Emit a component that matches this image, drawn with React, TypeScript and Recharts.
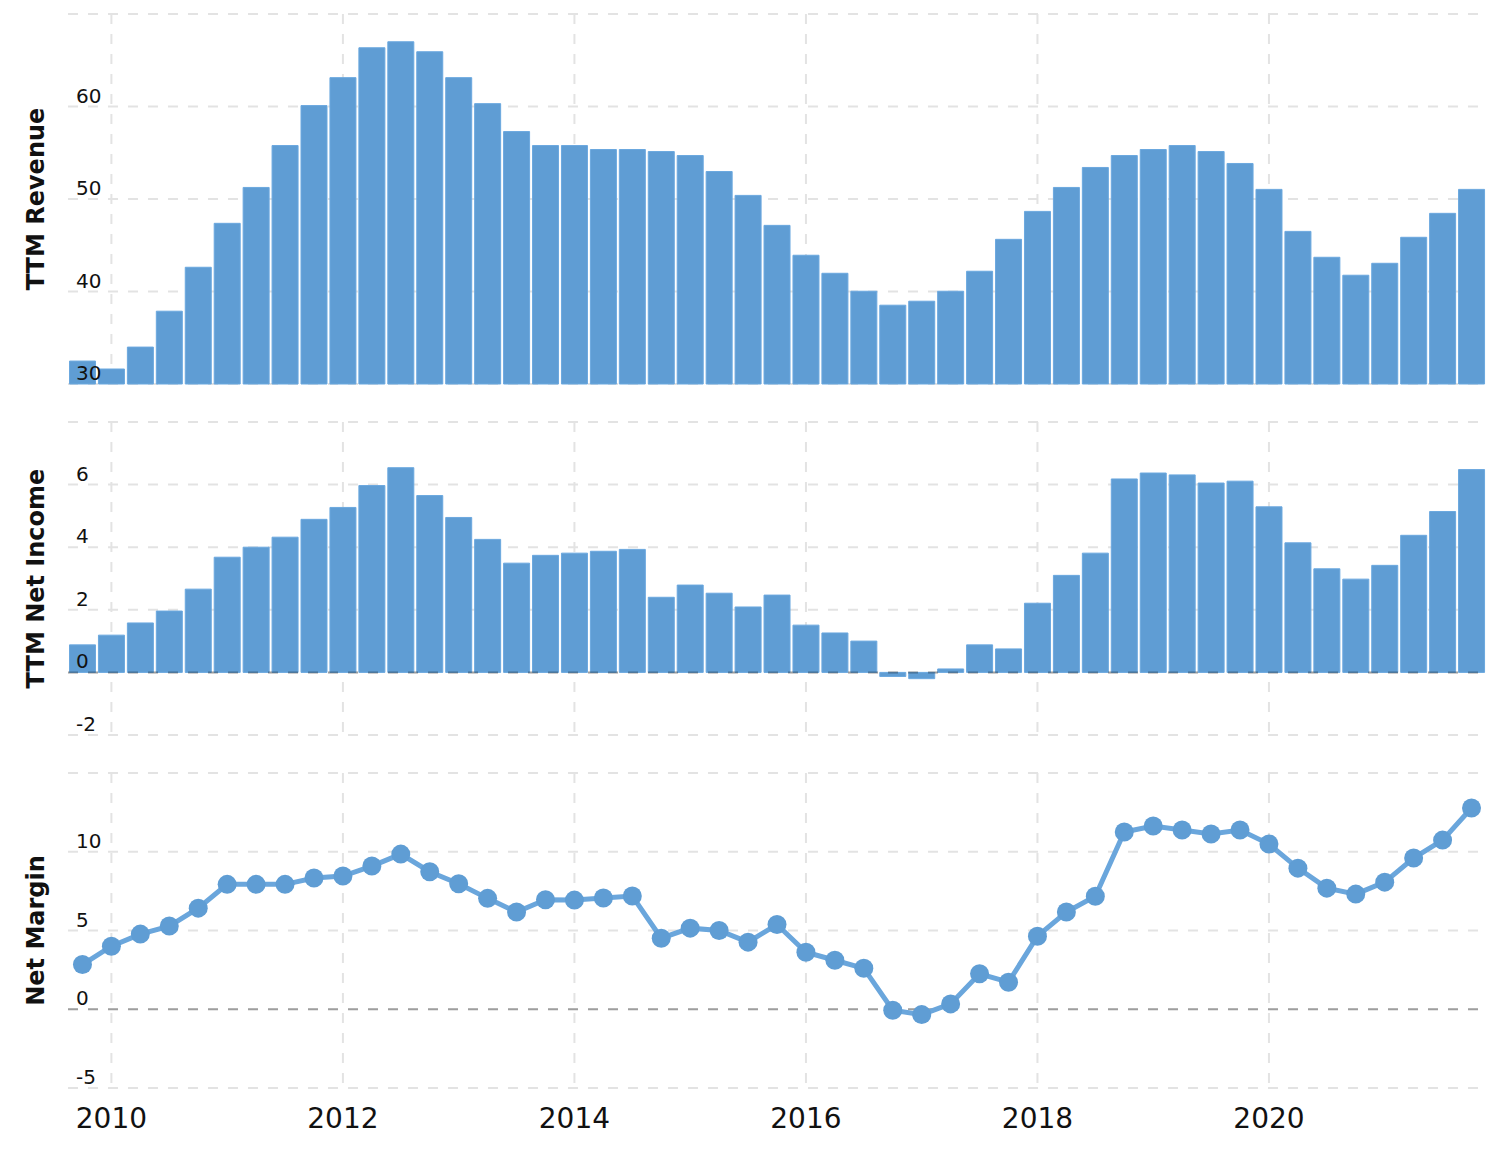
import {
  Bar,
  BarChart,
  CartesianGrid,
  Line,
  LineChart,
  ReferenceLine,
  XAxis,
  YAxis
} from "recharts";

const quarters = [
  "2009-09-30", "2009-12-31", "2010-03-31", "2010-06-30", "2010-09-30", "2010-12-31",
  "2011-03-31", "2011-06-30", "2011-09-30", "2011-12-31", "2012-03-31", "2012-06-30",
  "2012-09-30", "2012-12-31", "2013-03-31", "2013-06-30", "2013-09-30", "2013-12-31",
  "2014-03-31", "2014-06-30", "2014-09-30", "2014-12-31", "2015-03-31", "2015-06-30",
  "2015-09-30", "2015-12-31", "2016-03-31", "2016-06-30", "2016-09-30", "2016-12-31",
  "2017-03-31", "2017-06-30", "2017-09-30", "2017-12-31", "2018-03-31", "2018-06-30",
  "2018-09-30", "2018-12-31", "2019-03-31", "2019-06-30", "2019-09-30", "2019-12-31",
  "2020-03-31", "2020-06-30", "2020-09-30", "2020-12-31", "2021-03-31", "2021-06-30",
  "2021-09-30"
];

const ttmRevenue = [
  32.48, 31.62, 33.99, 37.87, 42.62, 47.37, 51.25, 55.78, 60.1, 63.12, 66.35, 67.0,
  65.92, 63.12, 60.31, 57.29, 55.78, 55.78, 55.35, 55.35, 55.13, 54.7, 52.97, 50.39,
  47.15, 43.92, 41.97, 40.03, 38.52, 38.95, 40.03, 42.19, 45.64, 48.66, 51.25, 53.41,
  54.7, 55.35, 55.78, 55.13, 53.84, 51.04, 46.5, 43.7, 41.76, 43.05, 45.86, 48.45,
  51.04
];

const ttmNetIncome = [
  0.88, 1.19, 1.58, 1.96, 2.66, 3.68, 4.0, 4.32, 4.89, 5.27, 5.97, 6.54,
  5.65, 4.95, 4.25, 3.49, 3.74, 3.81, 3.87, 3.93, 2.4, 2.79, 2.53, 2.09,
  2.47, 1.51, 1.26, 1.0, -0.13, -0.2, 0.11, 0.88, 0.75, 2.21, 3.1, 3.81,
  6.18, 6.37, 6.31, 6.05, 6.11, 5.29, 4.14, 3.31, 2.98, 3.42, 4.38, 5.14,
  6.48
];

const netMargin = [
  2.84, 4.0, 4.77, 5.28, 6.42, 7.93, 7.93, 7.93, 8.33, 8.46, 9.09, 9.85,
  8.73, 7.97, 7.04, 6.17, 6.95, 6.93, 7.06, 7.19, 4.51, 5.15, 5.0, 4.26,
  5.38, 3.62, 3.11, 2.6, -0.06, -0.34, 0.34, 2.25, 1.72, 4.64, 6.17, 7.18,
  11.25, 11.63, 11.38, 11.13, 11.38, 10.49, 8.96, 7.69, 7.31, 8.07, 9.6, 10.74,
  12.78
];

// year gridlines sit on the quarter ending just before each labelled year
const yearTicks = ["2009-12-31", "2011-12-31", "2013-12-31", "2015-12-31", "2017-12-31", "2019-12-31"];

const revenueTicks = [30, 40, 50, 60, 70];
const incomeTicks = [-2, 0, 2, 4, 6, 8];
const marginTicks = [-5, 0, 5, 10, 15];

const data = quarters.map((date, i) => ({
  date,
  revenue: ttmRevenue[i],
  income: ttmNetIncome[i],
  margin: netMargin[i]
}));

const BLUE = "#5f9dd4";
const FONT = "Verdana, 'DejaVu Sans', sans-serif";
const WIDTH = 1510;
const MARGIN_RIGHT = 24;
const AXIS_W = 68;
// half a bar slot, so the line's points line up with the bar centres above
const HALF_SLOT = (WIDTH - MARGIN_RIGHT - AXIS_W) / quarters.length / 2;

function yearLabel(date: string) {
  return String(Number(date.slice(0, 4)) + 1);
}

function makeYTick(topValue: number) {
  return (props: any) => {
    const { y, payload } = props;
    if (payload.value === topValue) return <g />;
    return (
      <text x={76} y={y - 4} fontSize={20} fontFamily={FONT} fill="#111" textAnchor="start">
        {payload.value}
      </text>
    );
  };
}

function XTick(props: any) {
  const { x, payload } = props;
  return (
    <text x={x} y={368} fontSize={28} fontFamily={FONT} fill="#111" textAnchor="middle">
      {yearLabel(payload.value)}
    </text>
  );
}

function AxisTitle(props: any) {
  const { viewBox, text } = props;
  const cy = viewBox.y + viewBox.height / 2;
  return (
    <text
      x={44}
      y={cy}
      transform={`rotate(-90 44 ${cy})`}
      textAnchor="middle"
      fontSize={24}
      fontWeight="bold"
      fontFamily={FONT}
      fill="#111"
    >
      {text}
    </text>
  );
}

const gridProps = {
  strokeDasharray: "10 10",
  stroke: "#e3e3e3",
  strokeWidth: 2,
  syncWithTicks: true
};

export default function App() {
  return (
    <div style={{ position: "absolute", left: 0, top: 0, width: WIDTH, height: 1159, background: "#fff" }}>
      <BarChart
        width={WIDTH}
        height={400}
        data={data}
        margin={{ top: 14, right: MARGIN_RIGHT, bottom: 16, left: 0 }}
        barCategoryGap={1.5}
      >
        <CartesianGrid {...gridProps} />
        <XAxis dataKey="date" ticks={yearTicks} interval={0} hide />
        <YAxis
          width={AXIS_W}
          domain={[30, 70]}
          ticks={revenueTicks}
          axisLine={false}
          tickLine={false}
          tick={makeYTick(70)}
          label={<AxisTitle text="TTM Revenue" />}
        />
        <Bar dataKey="revenue" fill={BLUE} stroke="#6ba8df" strokeWidth={1} isAnimationActive={false} />
      </BarChart>

      <BarChart
        width={WIDTH}
        height={360}
        data={data}
        margin={{ top: 22, right: MARGIN_RIGHT, bottom: 25, left: 0 }}
        barCategoryGap={1.5}
      >
        <CartesianGrid {...gridProps} />
        <XAxis dataKey="date" ticks={yearTicks} interval={0} hide />
        <YAxis
          width={AXIS_W}
          domain={[-2, 8]}
          ticks={incomeTicks}
          axisLine={false}
          tickLine={false}
          tick={makeYTick(8)}
          label={<AxisTitle text="TTM Net Income" />}
        />
        <Bar dataKey="income" fill={BLUE} stroke="#6ba8df" strokeWidth={1} isAnimationActive={false} />
        <ReferenceLine y={0} stroke="rgba(0,0,0,0.3)" strokeWidth={2} strokeDasharray="10 10" />
      </BarChart>

      <LineChart
        width={WIDTH}
        height={399}
        data={data}
        margin={{ top: 13, right: MARGIN_RIGHT, bottom: 0, left: 0 }}
      >
        <CartesianGrid {...gridProps} />
        <XAxis
          dataKey="date"
          ticks={yearTicks}
          interval={0}
          height={71}
          padding={{ left: HALF_SLOT, right: HALF_SLOT }}
          axisLine={false}
          tickLine={false}
          tick={<XTick />}
        />
        <YAxis
          width={AXIS_W}
          domain={[-5, 15]}
          ticks={marginTicks}
          axisLine={false}
          tickLine={false}
          tick={makeYTick(15)}
          label={<AxisTitle text="Net Margin" />}
        />
        <ReferenceLine y={0} stroke="rgba(0,0,0,0.3)" strokeWidth={2} strokeDasharray="10 10" />
        <Line
          type="linear"
          dataKey="margin"
          stroke="#6aa6dc"
          strokeWidth={5}
          dot={{ r: 9.5, fill: BLUE, stroke: "none" }}
          activeDot={false}
          isAnimationActive={false}
        />
      </LineChart>
    </div>
  );
}
